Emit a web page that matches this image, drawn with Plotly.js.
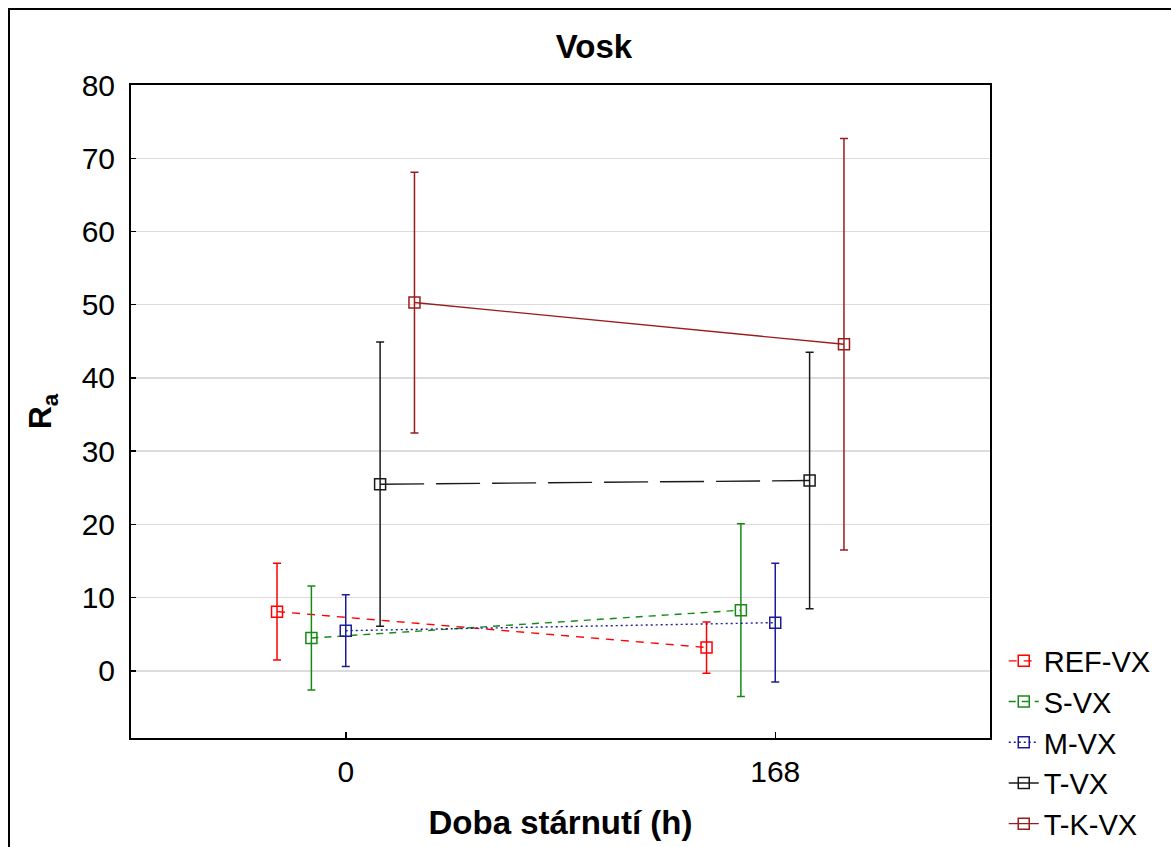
<!DOCTYPE html>
<html>
<head>
<meta charset="utf-8">
<script src="https://cdn.plot.ly/plotly-3.0.1.min.js"></script>
<style>
  html, body { margin: 0; padding: 0; background: #ffffff; }
  #chart { width: 1171px; height: 847px; }
</style>
</head>
<body>
<div id="chart"></div>
<script>
// Aging time categories (hours)
const agingHours = ['0', '168'];

// Series names
const seriesNames = ['REF-VX', 'S-VX', 'M-VX', 'T-VX', 'T-K-VX'];

// Mean Ra at each aging time
const refMean = [8.1, 3.2];
const sMean   = [4.5, 8.3];
const mMean   = [5.5, 6.6];
const tMean   = [25.5, 26.0];
const tkMean  = [50.3, 44.6];

// Half-width of the confidence interval at each aging time
const refErr = [6.6, 3.5];
const sErr   = [7.1, 11.8];
const mErr   = [4.9, 8.1];
const tErr   = [19.4, 17.5];
const tkErr  = [17.8, 28.1];

const means = [refMean, sMean, mMean, tMean, tkMean];
const errs  = [refErr, sErr, mErr, tErr, tkErr];

// Styling per series
const colors = ['#ff0000', '#168a16', '#1c1c99', '#1a1a1a', '#9b1c1c'];
const dashes = ['8px,7px', '7px,6px', '2px,3px', '44px,12px', 'solid'];
const dodge = 0.08; // horizontal offset between series within a category

const FONT = 'Arial, "Liberation Sans", sans-serif';

const traces = seriesNames.map((name, i) => {
  const shift = (i - 2) * dodge;
  return {
    type: 'scatter',
    mode: 'lines+markers',
    name: name,
    x: agingHours.map((_, k) => k + shift),
    y: means[i],
    error_y: {
      type: 'data',
      array: errs[i],
      visible: true,
      color: colors[i],
      thickness: 1.5,
      width: 4
    },
    line: { color: colors[i], width: 1.4, dash: dashes[i] },
    marker: {
      symbol: 'square-open',
      size: 11,
      color: colors[i],
      line: { color: colors[i], width: 1.5 }
    }
  };
});

const layout = {
  width: 1171,
  height: 847,
  paper_bgcolor: '#ffffff',
  plot_bgcolor: '#ffffff',
  margin: { l: 131, r: 181, t: 85, b: 109, autoexpand: false },
  font: { family: FONT, size: 30, color: '#000000' },
  title: {
    text: '<b>Vosk</b>',
    font: { family: FONT, size: 33, color: '#000000' },
    x: 594 / 1171, xref: 'container', xanchor: 'center',
    y: 1 - 46 / 847, yref: 'container', yanchor: 'middle'
  },
  xaxis: {
    range: [-0.5, 1.5],
    tickmode: 'array',
    tickvals: agingHours.map((_, k) => k),
    ticktext: agingHours,
    ticks: 'inside',
    ticklen: 6,
    tickwidth: 1.5,
    tickcolor: '#000000',
    ticklabelstandoff: 6,
    showgrid: false,
    zeroline: false,
    showline: true,
    linecolor: '#000000',
    linewidth: 2,
    mirror: true,
    automargin: false,
    tickfont: { family: FONT, size: 30, color: '#000000' },
    title: {
      text: '<b>Doba stárnutí (h)</b>',
      font: { family: FONT, size: 33, color: '#000000' },
      standoff: 24
    }
  },
  yaxis: {
    range: [-9.15, 80],
    tickmode: 'array',
    tickvals: [0, 10, 20, 30, 40, 50, 60, 70, 80],
    ticks: 'inside',
    ticklen: 5,
    tickwidth: 1.5,
    tickcolor: '#000000',
    ticklabelstandoff: 8,
    showgrid: true,
    gridcolor: '#dcdcdc',
    gridwidth: 1.5,
    zeroline: false,
    showline: true,
    linecolor: '#000000',
    linewidth: 2,
    mirror: true,
    automargin: false,
    tickfont: { family: FONT, size: 30, color: '#000000' },
    title: {
      text: '<b>R<sub>a</sub></b>',
      font: { family: FONT, size: 32, color: '#000000' },
      standoff: 20
    }
  },
  legend: {
    x: 1.016, xanchor: 'left',
    y: 0.157, yanchor: 'top',
    font: { family: FONT, size: 29, color: '#000000' },
    bgcolor: 'rgba(0,0,0,0)',
    itemwidth: 30,
    tracegroupgap: 0
  },
  showlegend: true,
  shapes: [{
    // outer frame around the whole figure
    type: 'rect',
    xref: 'paper', yref: 'paper',
    x0: (9 - 131) / 859, x1: 1.4,
    y0: -0.4, y1: (738 - 9) / 653,
    line: { color: '#000000', width: 2 },
    fillcolor: 'rgba(0,0,0,0)',
    layer: 'below'
  }]
};

Plotly.newPlot('chart', traces, layout, { displayModeBar: false, staticPlot: true });
</script>
</body>
</html>
